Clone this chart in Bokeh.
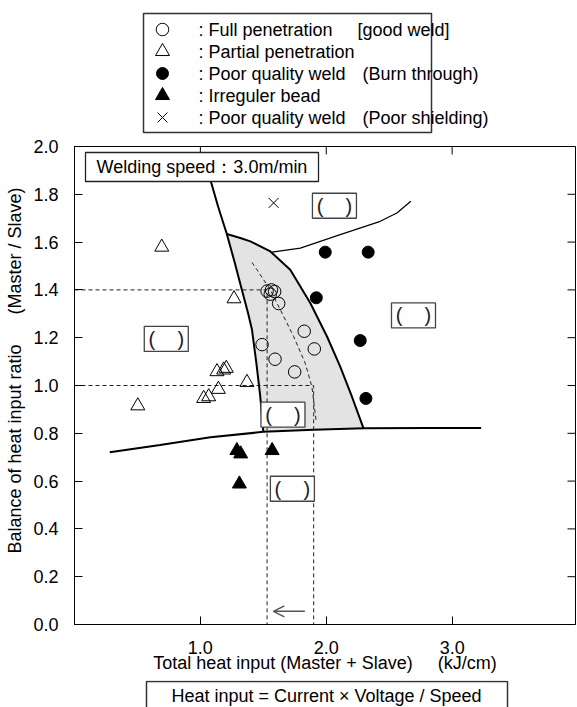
from bokeh.plotting import figure
from bokeh.layouts import column
from bokeh.models import (Range1d, LinearAxis, FixedTicker, Arrow, OpenHead,
                          NumeralTickFormatter)
from bokeh.core.properties import value
from bokeh.embed import file_html
from bokeh.resources import INLINE

FONT = "Liberation Sans"
NB = "\u00a0"

# ---------------- data ----------------
x_ticks = [1.0, 2.0, 3.0]
y_ticks = [0.0, 0.2, 0.4, 0.6, 0.8, 1.0, 1.2, 1.4, 1.6, 1.8, 2.0]

full_x = [1.53, 1.565, 1.59, 1.555, 1.622, 1.825, 1.49, 1.905, 1.593, 1.749]
full_y = [1.395, 1.40, 1.393, 1.382, 1.343, 1.227, 1.171, 1.153, 1.110, 1.057]

partial_x = [0.693, 1.267, 1.132, 1.185, 1.206, 1.37, 1.143, 1.026, 1.066, 0.503]
partial_y = [1.579, 1.363, 1.058, 1.065, 1.072, 1.013, 0.984, 0.946, 0.953, 0.915]

burn_x = [1.992, 2.333, 1.921, 2.27, 2.315]
burn_y = [1.558, 1.558, 1.367, 1.188, 0.946]

irr_x = [1.29, 1.32, 1.57, 1.31]
irr_y = [0.728, 0.714, 0.728, 0.588]

shield_x = [1.582]
shield_y = [1.764]

# boundary curves
left_x = [1.08, 1.14, 1.21, 1.27, 1.33, 1.38, 1.41, 1.445, 1.476, 1.50]
left_y = [1.86, 1.75, 1.634, 1.52, 1.40, 1.30, 1.233, 1.093, 0.953, 0.806]

right_x = [1.21, 1.317, 1.397, 1.556, 1.714, 1.873, 2.006, 2.111, 2.204, 2.296]
right_y = [1.634, 1.617, 1.603, 1.561, 1.484, 1.345, 1.205, 1.079, 0.953, 0.821]

low_x = [0.28, 0.68, 1.08, 1.50, 1.90, 2.30, 2.80, 3.23]
low_y = [0.721, 0.751, 0.783, 0.806, 0.815, 0.821, 0.822, 0.822]

ur_x = [1.556, 1.794, 2.111, 2.429, 2.561, 2.672]
ur_y = [1.557, 1.575, 1.631, 1.687, 1.722, 1.771]

dc_x = [1.41, 1.45, 1.556, 1.635, 1.741, 1.833, 1.886, 1.921]
dc_y = [1.515, 1.484, 1.40, 1.317, 1.205, 1.093, 0.995, 0.845]

# reference (dashed) lines: ratio and corresponding heat input
ref_ratio = [1.4, 1.0]
ref_heat = [1.53, 1.90]

# arrow along the x axis
arrow_from = 1.83
arrow_to = 1.58
arrow_y = 0.055

# empty "( )" label boxes
box_cx = [2.065, 2.693, 0.729, 1.656, 1.731]
box_cy = [1.752, 1.293, 1.195, 0.878, 0.568]

legend_labels = [": Full penetration", ": Partial penetration", ": Poor quality weld",
                 ": Irreguler bead", ": Poor quality weld"]
legend_notes = ["[good weld]", "", "(Burn through)", "", "(Poor shielding)"]

X_START, X_END = 0.0, 3.98
Y_START, Y_END = 0.0, 2.0

# ---------------- geometry (page pixels) ----------------
W = 577
ML, MR = 74, 2
H_TOP = 134
MT, FH, MB = 12, 478, 56
H_MAIN = MT + FH + MB
H_BOT = 707 - H_TOP - H_MAIN
FW = W - ML - MR
TICK = 8  # inward tick length, px


def page_fig(h, y0):
    f = figure(width=W, height=h, x_range=Range1d(ML, W - MR), y_range=Range1d(y0 + h, y0),
               output_backend="svg", toolbar_location=None,
               min_border_left=ML, min_border_right=MR, min_border_top=0, min_border_bottom=0,
               x_axis_location=None, y_axis_location=None)
    f.grid.visible = False
    f.outline_line_color = None
    f.background_fill_color = "white"
    f.border_fill_color = "white"
    return f


# ---------------- top legend figure ----------------
top = page_fig(H_TOP, 0)
top.quad(left=[143], right=[431], top=[13], bottom=[132], fill_color=None,
         line_color="#333333", line_width=1.5)
rows = [29, 51, 73, 95, 117]
mx = [162]
top.scatter(mx, [rows[0]], marker="circle", size=12.5, fill_color=None, line_color="black", line_width=1)
top.scatter(mx, [rows[1]], marker="triangle", size=14, fill_color=None, line_color="black", line_width=1)
top.scatter(mx, [rows[2]], marker="circle", size=12, fill_color="black", line_color="black")
top.scatter(mx, [rows[3]], marker="triangle", size=14, fill_color="black", line_color="black")
top.scatter(mx, [rows[4]], marker="x", size=14, line_color="black", line_width=1)
top.text([198] * 5, rows, text=legend_labels, text_align="left", text_baseline="middle",
         text_font=value(FONT), text_font_size="18px", text_color="black")
note_rows = [r for r, n in zip(rows, legend_notes) if n]
note_px = [357, 362, 362][:len(note_rows)]
top.text(note_px, note_rows, text=[n for n in legend_notes if n], text_align="left",
         text_baseline="middle", text_font=value(FONT), text_font_size="18px", text_color="black")

# ---------------- main figure ----------------
p = figure(width=W, height=H_MAIN, x_range=Range1d(X_START, X_END), y_range=Range1d(Y_START, Y_END),
           output_backend="svg", toolbar_location=None,
           min_border_left=ML, min_border_right=MR, min_border_top=MT, min_border_bottom=MB,
           x_axis_location=None, y_axis_location=None)
p.grid.visible = False
p.outline_line_color = "black"
p.outline_line_width = 1
p.background_fill_color = "white"
p.border_fill_color = "white"

DX = (X_END - X_START) / FW   # data units per px
DY = (Y_END - Y_START) / FH


def sx(px):
    return X_START + (px - ML) * DX


def sy(py):
    return Y_START + (H_TOP + MT + FH - py) * DY


def style_axis(ax):
    ax.major_tick_in = TICK
    ax.major_tick_out = 0
    ax.minor_tick_in = 0
    ax.minor_tick_out = 0
    ax.axis_line_color = "black"
    ax.major_tick_line_color = "black"
    ax.major_label_text_font = FONT
    ax.major_label_text_color = "black"
    ax.major_label_text_font_size = "18px"


xb = LinearAxis(ticker=FixedTicker(ticks=x_ticks), formatter=NumeralTickFormatter(format="0.0"))
style_axis(xb)
xb.major_label_standoff = 16
xb.axis_label = "Total heat input (Master" + NB + "+" + NB + "Slave)" + NB * 5 + "(kJ/cm)"
xb.axis_label_text_font = FONT
xb.axis_label_text_font_size = "18px"
xb.axis_label_text_font_style = "normal"
xb.axis_label_text_color = "black"
xb.axis_label_standoff = -4
p.add_layout(xb, "below")

yl = LinearAxis(ticker=FixedTicker(ticks=y_ticks), formatter=NumeralTickFormatter(format="0.0"))
style_axis(yl)
yl.major_label_standoff = 16
yl.axis_label = NB * 6 + "Balance of heat input ratio" + NB * 6 + "(Master / Slave)"
yl.axis_label_text_font = FONT
yl.axis_label_text_font_size = "18px"
yl.axis_label_text_font_style = "normal"
yl.axis_label_text_color = "black"
yl.axis_label_standoff = 5
p.add_layout(yl, "left")

# mirrored inward ticks on the top and right frame edges
p.segment(x0=x_ticks, y0=[Y_END] * len(x_ticks), x1=x_ticks, y1=[Y_END - TICK * DY] * len(x_ticks),
          line_color="black", line_width=1)
p.segment(x0=[X_END] * len(y_ticks), y0=y_ticks, x1=[X_END - TICK * DX] * len(y_ticks), y1=y_ticks,
          line_color="black", line_width=1)

# shaded good-weld region
shade_x = left_x[2:] + [low_x[4]] + right_x[::-1]
shade_y = left_y[2:] + [low_y[4]] + right_y[::-1]
p.patch(shade_x, shade_y, fill_color="#e3e3e3", line_color=None)

# dashed reference lines
for r, h in zip(ref_ratio, ref_heat):
    p.line([X_START, h, h], [r, r, Y_START], line_color="#222222", line_width=1, line_dash="4 3")
p.line(dc_x, dc_y, line_color="#222222", line_width=1, line_dash="4 3")

# boundaries
p.line(left_x, left_y, line_color="black", line_width=2)
p.line(right_x, right_y, line_color="black", line_width=2)
p.line(low_x, low_y, line_color="black", line_width=2)
p.line(ur_x, ur_y, line_color="black", line_width=1.2)

# markers
p.scatter(full_x, full_y, marker="circle", size=12.5, fill_color=None, line_color="black", line_width=1)
p.scatter(partial_x, partial_y, marker="triangle", size=14, fill_color=None, line_color="black", line_width=1)
p.scatter(burn_x, burn_y, marker="circle", size=12, fill_color="black", line_color="black")
p.scatter(irr_x, irr_y, marker="triangle", size=14, fill_color="black", line_color="black")
p.scatter(shield_x, shield_y, marker="x", size=14, line_color="black", line_width=1)

# label boxes
p.rect(box_cx, box_cy, width=44, height=25, width_units="screen", height_units="screen",
       fill_color="white", line_color="#444444", line_width=1.3)
p.text(box_cx, box_cy, text=["(" + NB * 4 + ")"] * len(box_cx), text_align="center",
       text_baseline="middle", text_font=value(FONT), text_font_size="20px", text_color="#222222")

# welding speed box
ws_x, ws_y = [sx(201.5)], [sy(166.5)]
p.rect(ws_x, ws_y, width=233, height=29, width_units="screen", height_units="screen",
       fill_color="white", line_color="#222222", line_width=1.3)
p.text(ws_x, ws_y, text=["Welding speed\uff1a3.0m/min"], text_align="center", text_baseline="middle",
       text_font=value(FONT), text_font_size="18px", text_color="black")

p.add_layout(Arrow(x_start=arrow_from, y_start=arrow_y, x_end=arrow_to, y_end=arrow_y,
                   line_color="#555555", line_width=1.5,
                   end=OpenHead(size=11, line_color="#555555", line_width=1.5)))

# ---------------- bottom formula box ----------------
y_bot0 = H_TOP + H_MAIN
bot = page_fig(H_BOT, y_bot0)
bot.quad(left=[146], right=[507], top=[681], bottom=[730], fill_color=None,
         line_color="#333333", line_width=1.5)
bot.text([326], [695], text=["Heat input = Current \u00d7 Voltage / Speed"], text_align="center",
         text_baseline="middle", text_font=value(FONT), text_font_size="18px", text_color="black")

layout = column(top, p, bot)
open("out.html", "w").write(file_html(layout, INLINE))
